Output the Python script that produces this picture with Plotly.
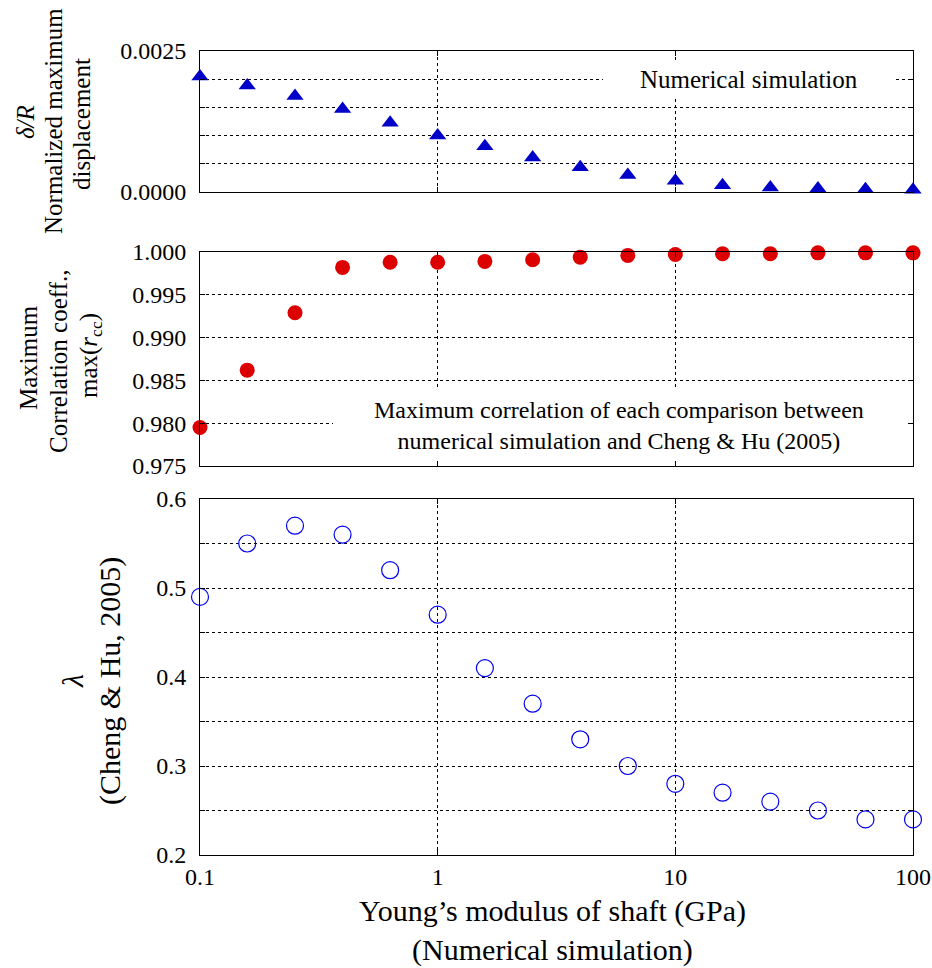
import plotly.graph_objects as go
from plotly.subplots import make_subplots

# ---------------- data ----------------
modulus_gpa = [0.1, 0.158, 0.251, 0.398, 0.631, 1.0, 1.58, 2.51, 3.98, 6.31,
               10.0, 15.8, 25.1, 39.8, 63.1, 100.0]
disp_norm = [0.00205, 0.00189, 0.00170, 0.00147, 0.00123, 0.00100, 0.00081, 0.00061,
             0.00044, 0.00030, 0.00020, 0.00012, 0.00008, 0.00006, 0.00005, 0.00004]
max_rcc = [0.9795, 0.9862, 0.9929, 0.9982, 0.9988, 0.9988, 0.9989, 0.9991,
           0.9994, 0.9996, 0.9997, 0.9998, 0.9998, 0.9999, 0.9999, 0.9999]
lam = [0.49, 0.55, 0.57, 0.56, 0.52, 0.47, 0.41, 0.37, 0.33, 0.30,
       0.28, 0.27, 0.26, 0.25, 0.24, 0.24]

x_tickvals = [0.1, 1, 10, 100]
x_ticktext = ["0.1", "1", "10", "100"]
y1_tickvals = [0.0, 0.0005, 0.0010, 0.0015, 0.0020, 0.0025]
y1_ticktext = ["0.0000", "", "", "", "", "0.0025"]
y2_tickvals = [0.975, 0.980, 0.985, 0.990, 0.995, 1.000]
y2_ticktext = ["0.975", "0.980", "0.985", "0.990", "0.995", "1.000"]
y3_tickvals = [0.2, 0.25, 0.3, 0.35, 0.4, 0.45, 0.5, 0.55, 0.6]
y3_ticktext = ["0.2", "", "0.3", "", "0.4", "", "0.5", "", "0.6"]

FONT = "Liberation Serif"
W, H = 932, 968
L, R, T, B = 200, 19, 51, 113
PW, PH = W - L - R, H - T - B


def px(xp):
    return (xp - L) / PW


def py(yp):
    return (H - B - yp) / PH


fig = make_subplots(rows=3, cols=1, shared_xaxes=True)

fig.add_trace(go.Scatter(x=modulus_gpa, y=disp_norm, mode="markers", cliponaxis=False,
                         marker=dict(symbol="triangle-up", size=15, color="#0000C8"),
                         showlegend=False), row=1, col=1)
fig.add_trace(go.Scatter(x=modulus_gpa, y=max_rcc, mode="markers", cliponaxis=False,
                         marker=dict(symbol="circle", size=15, color="#DD0000"),
                         showlegend=False), row=2, col=1)
fig.add_trace(go.Scatter(x=modulus_gpa, y=lam, mode="markers", cliponaxis=False,
                         marker=dict(symbol="circle-open", size=17, color="#0000EE",
                                     line=dict(width=1.2, color="#0000EE")),
                         showlegend=False), row=3, col=1)

xcommon = dict(type="log", range=[-1, 2], tickvals=x_tickvals, ticktext=x_ticktext,
               ticks="inside", ticklen=5, tickcolor="black", showline=True,
               linecolor="black", linewidth=1, mirror="ticks", showgrid=True,
               gridcolor="black", griddash="dot", gridwidth=1, zeroline=False,
               automargin=False,
               tickfont=dict(family=FONT, size=24, color="black"))
ycommon = dict(ticks="inside", ticklen=5, tickcolor="black", showline=True,
               linecolor="black", linewidth=1, mirror="ticks", showgrid=True,
               gridcolor="black", griddash="dot", gridwidth=1, zeroline=False,
               automargin=False,
               tickfont=dict(family=FONT, size=24, color="black"),
               ticklabelstandoff=8)

fig.update_layout(
    width=W, height=H, autosize=False,
    margin=dict(l=L, r=R, t=T, b=B, autoexpand=False),
    paper_bgcolor="white", plot_bgcolor="white",
    font=dict(family=FONT, color="black"),
    xaxis=dict(xcommon, showticklabels=False),
    xaxis2=dict(xcommon, showticklabels=False),
    xaxis3=dict(xcommon, showticklabels=True),
    yaxis=dict(ycommon, domain=[py(192), py(51)], range=[0, 0.0025],
               tickvals=y1_tickvals, ticktext=y1_ticktext),
    yaxis2=dict(ycommon, domain=[py(466), py(252)], range=[0.975, 1.0],
                tickvals=y2_tickvals, ticktext=y2_ticktext),
    yaxis3=dict(ycommon, domain=[py(855), py(499)], range=[0.2, 0.6],
                tickvals=y3_tickvals, ticktext=y3_ticktext),
)

# white boxes behind in-panel labels
fig.add_shape(type="rect", xref="x domain", yref="y domain",
              x0=(603 - L) / PW, x1=(895 - L) / PW,
              y0=(192 - 98) / 141, y1=(192 - 63) / 141,
              fillcolor="white", line=dict(width=0), layer="above")
fig.add_shape(type="rect", xref="x2 domain", yref="y2 domain",
              x0=(333 - L) / PW, x1=(908 - L) / PW,
              y0=(466 - 460) / 214, y1=(466 - 388) / 214,
              fillcolor="white", line=dict(width=0), layer="above")

ann = []
ann.append(dict(text="Numerical simulation", xref="paper", yref="paper",
                x=px(749), y=py(80), showarrow=False, xanchor="center", yanchor="middle",
                font=dict(size=25, family=FONT, color="black")))
ann.append(dict(text="Maximum correlation of each comparison between<br>"
                     "numerical simulation and Cheng &amp; Hu (2005)",
                xref="paper", yref="paper", x=px(619), y=py(425), showarrow=False,
                xanchor="center", yanchor="middle",
                font=dict(size=24, family=FONT, color="black")))
# x-axis title
ann.append(dict(text="Young\u2019s modulus of shaft (GPa)<br>(Numerical simulation)",
                xref="paper", yref="paper", x=px(552), y=py(931), showarrow=False,
                xanchor="center", yanchor="middle",
                font=dict(size=30, family=FONT, color="black")))
# y-axis titles (one annotation per line)
ytitles = [
    ("<i>\u03b4/R</i>", 25, 122, 25),
    ("Normalized maximum", 53, 121, 25),
    ("displacement", 82, 124, 25),
    ("Maximum", 28, 358, 25),
    ("Correlation coeff.,", 58, 361, 25),
    ("max(<i>r</i><sub>cc</sub>)", 90, 356, 25),
    ("<i>\u03bb</i>", 72, 681, 30),
    ("(Cheng &amp; Hu, 2005)", 110, 681, 30),
]
for txt, xp, yp, fs in ytitles:
    ann.append(dict(text=txt, xref="paper", yref="paper", x=px(xp), y=py(yp),
                    textangle=-90, showarrow=False, xanchor="center", yanchor="middle",
                    font=dict(size=fs, family=FONT, color="black")))
fig.update_layout(annotations=ann)

fig.write_html("out.html")
